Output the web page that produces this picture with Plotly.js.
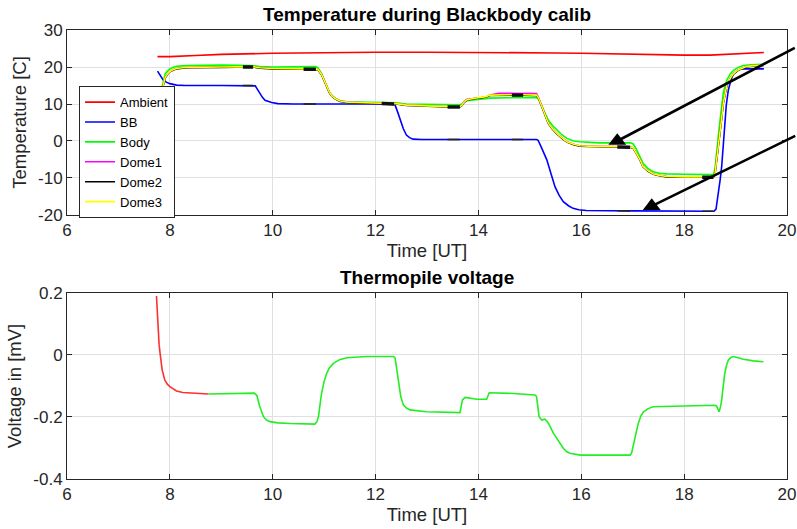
<!DOCTYPE html>
<html>
<head>
<meta charset="utf-8">
<script src="https://cdn.plot.ly/plotly-3.0.1.min.js"></script>
<style>
  html, body { margin: 0; padding: 0; background: #fff; }
  #chart { width: 797px; height: 529px; }
</style>
</head>
<body>
<div id="chart"></div>
<script>
// ---- Temperatures during the blackbody calibration (time in UT hours, degrees C) ----
var ambTime = [7.76, 8.0, 8.5, 9.0, 10.0, 11.0, 12.0, 13.0, 14.0, 15.0, 15.5, 16.0, 17.0, 18.0, 18.5, 19.0, 19.55];
var ambTemp = [22.8, 22.8, 23.1, 23.4, 23.7, 23.9, 24.0, 24.0, 24.0, 24.0, 23.8, 23.7, 23.4, 23.2, 23.2, 23.5, 23.9];

var bbTime = [7.76, 7.82, 7.87, 7.93, 8.0, 8.13, 8.3, 9.0, 9.62, 9.66, 9.7, 9.75, 9.8, 9.85, 9.92, 9.98, 10.1, 10.4,
  12.35, 12.38, 12.43, 12.48, 12.54, 12.6, 12.66, 12.73, 12.9, 15.13, 15.16, 15.22, 15.28, 15.33, 15.41, 15.49,
  15.57, 15.65, 15.75, 15.84, 15.95, 16.1, 17.0, 18.58, 18.62, 18.66, 18.7, 18.73, 18.76, 18.79, 18.82, 18.86,
  18.91, 18.96, 19.04, 19.12, 19.55];
var bbTemp = [18.9, 17.6, 16.5, 15.9, 15.5, 15.1, 15.0, 15.0, 15.0, 14.9, 14.0, 12.8, 11.8, 11.0, 10.6, 10.4, 10.1, 10.0,
  10.0, 9.7, 7.8, 5.7, 3.3, 1.6, 0.9, 0.5, 0.4, 0.4, 0.2, -1.6, -3.4, -5.1, -8.8, -12.4,
  -14.7, -16.4, -17.5, -18.2, -18.6, -18.8, -18.9, -19.0, -18.4, -15.0, -10.5, -6.9, -1.0, 4.8, 9.8, 13.8,
  16.5, 18.2, 19.1, 19.5, 19.5];

var bodyTime = [7.78, 7.82, 7.86, 7.91, 7.96, 8.0, 8.07, 8.13, 8.25, 8.4, 9.0, 9.6, 9.75, 10.0, 10.84, 10.88, 10.95,
  11.0, 11.05, 11.1, 11.15, 11.22, 11.31, 11.45, 11.63, 12.0, 12.4, 12.6, 13.0, 13.64, 13.68, 13.72, 13.77, 13.9,
  14.03, 14.15, 14.22, 14.6, 15.13, 15.17, 15.22, 15.26, 15.31, 15.36, 15.44, 15.52, 15.62, 15.72, 15.85, 15.97,
  16.15, 16.36, 16.95, 17.01, 17.06, 17.11, 17.16, 17.2, 17.3, 17.4, 17.52, 17.66, 18.0, 18.57, 18.6, 18.63,
  18.67, 18.7, 18.73, 18.76, 18.8, 18.83, 18.9, 18.96, 19.05, 19.15, 19.3, 19.55];
var bodyTemp = [10.5, 12.8, 15.3, 18.2, 19.0, 19.5, 19.9, 20.2, 20.3, 20.4, 20.5, 20.4, 20.1, 20.0, 20.1, 19.8, 18.2,
  16.4, 14.5, 13.2, 12.3, 11.5, 10.9, 10.6, 10.5, 10.4, 10.3, 10.0, 9.9, 9.8, 10.0, 10.6, 10.9, 11.1,
  11.3, 11.4, 11.6, 11.7, 11.8, 11.3, 9.8, 8.6, 7.0, 5.6, 4.2, 3.0, 1.7, 0.7, 0.0, -0.2,
  -0.4, -0.5, -0.5, -0.8, -1.9, -3.3, -4.8, -6.0, -7.5, -8.3, -8.7, -8.9, -9.0, -9.1, -7.5, -2.4,
  2.0, 5.7, 9.5, 12.9, 15.2, 16.5, 18.2, 19.1, 19.9, 20.4, 20.6, 20.7];

var domeTime = [7.78, 7.82, 7.86, 7.91, 7.96, 8.0, 8.07, 8.13, 8.25, 8.4,
  9.0, 9.42, 9.62, 9.75, 10.0, 10.6, 10.84, 10.88, 10.95, 11.0,
  11.05, 11.1, 11.15, 11.22, 11.31, 11.45, 11.63, 12.0, 12.25, 12.4,
  12.6, 13.0, 13.4, 13.64, 13.68, 13.72, 13.77, 13.9, 14.03, 14.15,
  14.22, 14.4, 14.65, 14.87, 15.13, 15.17, 15.22, 15.26, 15.31, 15.36,
  15.44, 15.52, 15.62, 15.72, 15.85, 15.97, 16.15, 16.36, 16.7, 16.95,
  17.01, 17.06, 17.11, 17.16, 17.2, 17.3, 17.4, 17.52, 17.66, 18.0,
  18.35, 18.57, 18.6, 18.63, 18.67, 18.7, 18.73, 18.76, 18.8, 18.83,
  18.9, 18.96, 19.05, 19.15, 19.21, 19.3, 19.55];
var dome1Temp = [10.0, 12.3, 14.6, 17.2, 18.2, 18.8, 19.3, 19.6, 19.8, 19.9,
  20.0, 20.1, 20.1, 19.8, 19.6, 19.5, 19.5, 19.3, 18.0, 16.3,
  14.5, 13.2, 12.2, 11.4, 10.8, 10.5, 10.4, 10.3, 10.2, 10.1,
  9.7, 9.4, 9.3, 9.3, 9.7, 10.6, 11.2, 11.5, 11.6, 11.9,
  12.4, 12.9, 12.9, 12.9, 12.8, 11.7, 9.9, 8.4, 6.5, 4.8,
  3.3, 2.1, 0.9, -0.2, -0.9, -1.3, -1.4, -1.5, -1.5, -1.6,
  -1.9, -2.9, -4.2, -5.6, -6.9, -8.1, -8.9, -9.3, -9.6, -9.7,
  -9.7, -9.7, -8.8, -5.5, -1.5, 2.1, 6.3, 10.2, 13.2, 15.1,
  17.0, 18.2, 19.2, 19.8, 20.1, 20.3, 20.5];
var dome2Temp = [9.9, 12.2, 14.5, 17.1, 18.1, 18.7, 19.2, 19.5, 19.7, 19.8,
  19.9, 20.0, 20.0, 19.7, 19.5, 19.4, 19.4, 19.2, 17.9, 16.2,
  14.4, 13.1, 12.1, 11.3, 10.7, 10.4, 10.3, 10.2, 10.1, 10.0,
  9.6, 9.3, 9.2, 9.2, 9.6, 10.4, 11.0, 11.4, 11.7, 11.9,
  12.3, 12.4, 12.4, 12.4, 12.3, 11.5, 9.8, 8.3, 6.4, 4.7,
  3.2, 2.0, 0.8, -0.3, -1.0, -1.4, -1.5, -1.6, -1.6, -1.7,
  -2.0, -3.0, -4.3, -5.7, -7.0, -8.2, -9.0, -9.4, -9.7, -9.8,
  -9.8, -9.8, -8.9, -5.6, -1.6, 2.0, 6.2, 10.1, 13.1, 15.0,
  16.9, 18.1, 19.1, 19.7, 20.0, 20.2, 20.4];
var dome3Temp = [10.0, 12.3, 14.6, 17.2, 18.2, 18.8, 19.3, 19.6, 19.8, 19.9,
  20.0, 20.1, 20.1, 19.8, 19.6, 19.5, 19.5, 19.3, 18.0, 16.3,
  14.5, 13.2, 12.2, 11.4, 10.8, 10.5, 10.4, 10.3, 10.2, 10.1,
  9.7, 9.4, 9.3, 9.3, 9.7, 10.5, 11.1, 11.5, 11.8, 12.0,
  12.4, 12.5, 12.5, 12.5, 12.4, 11.6, 9.9, 8.4, 6.5, 4.8,
  3.3, 2.1, 0.9, -0.2, -0.9, -1.3, -1.4, -1.5, -1.5, -1.6,
  -1.9, -2.9, -4.2, -5.6, -6.9, -8.1, -8.9, -9.3, -9.6, -9.7,
  -9.7, -9.7, -8.8, -5.5, -1.5, 2.1, 6.3, 10.2, 13.2, 15.1,
  17.0, 18.2, 19.2, 19.8, 20.1, 20.3, 20.5];

// averaging windows used for each calibration plateau (start, end in UT hours)
var windowStart = [9.42, 10.6, 12.12, 13.4, 14.65, 16.7, 18.35];
var windowEnd   = [9.62, 10.84, 12.36, 13.64, 14.87, 16.95, 18.57];

// points marked by the two arrows (UT hours, degrees C)
var arrowTime = [16.70, 17.37];
var arrowTemp = [0.0, -17.6];

// ---- Thermopile output (mV) ----
var vRedTime = [7.74, 7.755, 7.77, 7.79, 7.81, 7.85, 7.9, 7.95, 8.0, 8.07, 8.13, 8.25, 8.39, 8.6, 8.75];
var vRedVal  = [0.19, 0.14, 0.08, 0.035, 0.005, -0.048, -0.08, -0.094, -0.102, -0.11, -0.116, -0.121, -0.123, -0.125, -0.126];

var vGreenTime = [8.75, 9.2, 9.64, 9.69, 9.75, 9.82, 9.88, 9.95, 10.1, 10.34, 10.82, 10.86, 10.89, 10.92, 10.95,
  11.0, 11.05, 11.1, 11.18, 11.3, 11.44, 11.83, 12.35, 12.38, 12.41, 12.44, 12.49, 12.54, 12.6, 12.67, 12.99,
  13.64, 13.67, 13.69, 13.74, 13.97, 14.16, 14.19, 14.21, 14.68, 15.1, 15.13, 15.16, 15.18, 15.23, 15.26, 15.29,
  15.33, 15.36, 15.46, 15.59, 15.65, 15.72, 15.78, 15.98, 16.95, 16.98, 17.01, 17.06, 17.11, 17.16, 17.21, 17.3,
  17.4, 17.98, 18.6, 18.63, 18.66, 18.68, 18.71, 18.73, 18.76, 18.79, 18.83, 18.86, 18.91, 18.96, 19.05, 19.15,
  19.35, 19.54];
var vGreenVal = [-0.126, -0.124, -0.123, -0.13, -0.167, -0.199, -0.21, -0.215, -0.219, -0.221, -0.223, -0.215, -0.199, -0.16, -0.124,
  -0.085, -0.059, -0.042, -0.027, -0.015, -0.009, -0.005, -0.005, -0.01, -0.048, -0.07, -0.134, -0.161, -0.171, -0.177, -0.183,
  -0.186, -0.16, -0.145, -0.137, -0.143, -0.143, -0.13, -0.122, -0.124, -0.129, -0.134, -0.17, -0.199, -0.21, -0.208, -0.207,
  -0.213, -0.22, -0.253, -0.285, -0.301, -0.312, -0.317, -0.323, -0.323, -0.315, -0.296, -0.255, -0.22, -0.196, -0.183, -0.173,
  -0.167, -0.165, -0.162, -0.165, -0.178, -0.183, -0.165, -0.145, -0.1, -0.059, -0.03, -0.016, -0.008, -0.005, -0.009, -0.014,
  -0.019, -0.022];

// axis ticks
var timeTicks = [6, 8, 10, 12, 14, 16, 18, 20];
var tempTicks = [-20, -10, 0, 10, 20, 30];
var tempTickText = ['-20', '-10', '0', '10', '20', '30'];
var voltTicks = [-0.4, -0.2, 0, 0.2];
var voltTickText = ['-0.4', '-0.2', '0', '0.2'];

// ---- helpers ----
function interp(xs, ys, x) {
  for (var i = 0; i < xs.length - 1; i++) {
    if (x >= xs[i] && x <= xs[i + 1]) {
      var f = (x - xs[i]) / (xs[i + 1] - xs[i]);
      return ys[i] + f * (ys[i + 1] - ys[i]);
    }
  }
  return null;
}
// pieces of a series that fall inside the averaging windows, separated by gaps
function windowPieces(xs, ys) {
  var px = [], py = [];
  for (var w = 0; w < windowStart.length; w++) {
    var a = windowStart[w], b = windowEnd[w];
    px.push(a); py.push(interp(xs, ys, a));
    for (var i = 0; i < xs.length; i++) {
      if (xs[i] > a && xs[i] < b) { px.push(xs[i]); py.push(ys[i]); }
    }
    px.push(b); py.push(interp(xs, ys, b));
    px.push(null); py.push(null);
  }
  return {x: px, y: py};
}

var FONT = 'Liberation Sans, Arial, Helvetica, sans-serif';
var INK = '#262626';
var LW = 1.6;

function line(x, y, name, color, opts) {
  var t = {x: x, y: y, name: name, type: 'scatter', mode: 'lines',
           line: {color: color, width: LW}, hoverinfo: 'skip'};
  for (var k in (opts || {})) t[k] = opts[k];
  return t;
}

var domeWin = windowPieces(domeTime, dome2Temp);
var bbWin = windowPieces(bbTime, bbTemp);

var traces = [
  line(ambTime, ambTemp, 'Ambient', '#ff0000'),
  line(bbTime, bbTemp, 'BB', '#0000ff'),
  line(bodyTime, bodyTemp, 'Body', '#00ff00'),
  line(domeTime, dome1Temp, 'Dome1', '#ff00ff'),
  line(domeTime, dome2Temp, 'Dome2', '#000000'),
  line(domeTime, dome3Temp, 'Dome3', '#ffff00'),
  {x: bbWin.x, y: bbWin.y, type: 'scatter', mode: 'lines', showlegend: false, connectgaps: false,
   line: {color: '#222222', width: 1.6}, hoverinfo: 'skip'},
  {x: domeWin.x, y: domeWin.y, type: 'scatter', mode: 'lines', showlegend: false, connectgaps: false,
   line: {color: '#111111', width: 3.5}, hoverinfo: 'skip'},
  {x: arrowTime, y: arrowTemp, type: 'scatter', mode: 'markers', showlegend: false, cliponaxis: false,
   marker: {symbol: 'triangle-up', size: 15.5, color: '#000000'}, hoverinfo: 'skip'},
  line(vRedTime, vRedVal, 'Thermopile (settling)', '#ff3030', {xaxis: 'x2', yaxis: 'y2', showlegend: false}),
  line(vGreenTime, vGreenVal, 'Thermopile', '#22ee22', {xaxis: 'x2', yaxis: 'y2', showlegend: false})
];

function axisBase() {
  return {
    showline: true, linecolor: INK, linewidth: 1, mirror: 'ticks',
    ticks: 'inside', ticklen: 5, tickwidth: 1, tickcolor: INK,
    showgrid: true, gridcolor: '#e0e0e0', gridwidth: 1, zeroline: false,
    tickfont: {family: FONT, size: 17, color: INK},
    fixedrange: true
  };
}

var xTop = axisBase();
xTop.range = [6, 20]; xTop.tickmode = 'array'; xTop.tickvals = timeTicks; xTop.anchor = 'y';
xTop.title = {text: 'Time [UT]', font: {family: FONT, size: 18.5, color: INK}, standoff: 4};
xTop.domain = [0, 1];

var yTop = axisBase();
yTop.range = [-20, 30]; yTop.tickmode = 'array'; yTop.tickvals = tempTicks; yTop.ticktext = tempTickText;
yTop.anchor = 'x'; yTop.domain = [0.588, 1];
yTop.title = {text: 'Temperature [C]', font: {family: FONT, size: 18.5, color: INK}, standoff: 6};

var xBot = axisBase();
xBot.range = [6, 20]; xBot.tickmode = 'array'; xBot.tickvals = timeTicks; xBot.anchor = 'y2';
xBot.title = {text: 'Time [UT]', font: {family: FONT, size: 18.5, color: INK}, standoff: 4};
xBot.domain = [0, 1];

var yBot = axisBase();
yBot.range = [-0.4, 0.2]; yBot.tickmode = 'array'; yBot.tickvals = voltTicks; yBot.ticktext = voltTickText;
yBot.anchor = 'x2'; yBot.domain = [0, 0.4143];
yBot.title = {text: 'Voltage in [mV]', font: {family: FONT, size: 18.5, color: INK}, standoff: 6};

var layout = {
  width: 797, height: 529,
  margin: {l: 67, r: 10, t: 30, b: 50, pad: 0},
  paper_bgcolor: '#ffffff', plot_bgcolor: '#ffffff',
  font: {family: FONT, color: INK},
  xaxis: xTop, yaxis: yTop, xaxis2: xBot, yaxis2: yBot,
  showlegend: true,
  legend: {
    x: 0.0167, xanchor: 'left', y: 0.875, yanchor: 'top',
    bgcolor: '#ffffff', bordercolor: INK, borderwidth: 1,
    font: {family: FONT, size: 13, color: '#000000'},
    itemwidth: 30, tracegroupgap: 0
  },
  annotations: [
    {text: '<b>Temperature during Blackbody calib</b>', xref: 'paper', yref: 'paper', x: 0.5, y: 1.0356,
     xanchor: 'center', yanchor: 'middle', showarrow: false, font: {family: FONT, size: 19, color: '#000000'}},
    {text: '<b>Thermopile voltage</b>', xref: 'paper', yref: 'paper', x: 0.5, y: 0.4477,
     xanchor: 'center', yanchor: 'middle', showarrow: false, font: {family: FONT, size: 19, color: '#000000'}},
    {text: '', xref: 'x', yref: 'y', x: arrowTime[0], y: arrowTemp[0], ax: 179, ay: -94,
     showarrow: true, arrowhead: 0, arrowwidth: 2.6, arrowcolor: '#000000', standoff: 0, startstandoff: 0},
    {text: '', xref: 'x', yref: 'y', x: arrowTime[1], y: arrowTemp[1], ax: 145, ay: -71,
     showarrow: true, arrowhead: 0, arrowwidth: 2.6, arrowcolor: '#000000', standoff: 0, startstandoff: 0}
  ]
};

Plotly.newPlot('chart', traces, layout, {staticPlot: true, displayModeBar: false});
</script>
</body>
</html>
